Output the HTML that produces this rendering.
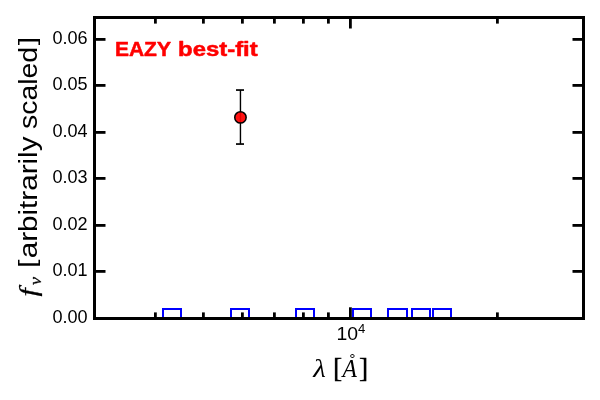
<!DOCTYPE html>
<html lang="en">
<head>
<meta charset="utf-8">
<title>EAZY best-fit</title>
<style>
  html, body { margin: 0; padding: 0; background: #ffffff; }
  body { width: 600px; height: 400px; overflow: hidden; font-family: "Liberation Sans", sans-serif; }
  svg { display: block; will-change: transform; }
  text { font-family: "Liberation Sans", sans-serif; fill: #000; }
  .ser { font-family: "Liberation Serif", serif; }
  .it { font-family: "Liberation Serif", serif; font-style: italic; }
</style>
</head>
<body>
<svg width="600" height="400" viewBox="0 0 600 400">
  <rect x="0" y="0" width="600" height="400" fill="#ffffff"/>
  <defs>
    <clipPath id="ax"><rect x="94.5" y="17.5" width="489" height="301"/></clipPath>
  </defs>

  <!-- filter squares (blue, clipped by axes) -->
  <g clip-path="url(#ax)" fill="none" stroke="#0000ff" stroke-width="2">
    <rect x="163" y="309" width="18" height="19"/>
    <rect x="231" y="309" width="18" height="19"/>
    <rect x="296" y="309" width="18" height="19"/>
    <rect x="353" y="309" width="18" height="19"/>
    <rect x="388" y="309" width="19" height="19"/>
    <rect x="412" y="309" width="18" height="19"/>
    <rect x="433" y="309" width="18" height="19"/>
  </g>

  <!-- data point with error bar -->
  <g>
    <rect x="239.75" y="90" width="1.4" height="54" fill="#000"/>
    <rect x="236" y="89.2" width="8" height="1.7" fill="#000"/>
    <rect x="236" y="143.2" width="8" height="1.7" fill="#000"/>
    <circle cx="240.45" cy="117.4" r="5.7" fill="#ff0000" fill-opacity="0.92" stroke="#000" stroke-width="1.5"/>
  </g>

  <!-- ticks -->
  <g fill="#000">
    <!-- left -->
    <rect x="94.5" y="38" width="11" height="2.8"/>
    <rect x="94.5" y="84" width="11" height="2.8"/>
    <rect x="94.5" y="131" width="11" height="2.8"/>
    <rect x="94.5" y="177" width="11" height="2.8"/>
    <rect x="94.5" y="224" width="11" height="2.8"/>
    <rect x="94.5" y="270" width="11" height="2.8"/>
    <!-- right -->
    <rect x="572.5" y="38" width="11" height="2.8"/>
    <rect x="572.5" y="84" width="11" height="2.8"/>
    <rect x="572.5" y="131" width="11" height="2.8"/>
    <rect x="572.5" y="177" width="11" height="2.8"/>
    <rect x="572.5" y="224" width="11" height="2.8"/>
    <rect x="572.5" y="270" width="11" height="2.8"/>
    <!-- bottom minor -->
    <rect x="154" y="312.4" width="2.8" height="6"/>
    <rect x="202" y="312.4" width="2.8" height="6"/>
    <rect x="241" y="312.4" width="2.8" height="6"/>
    <rect x="273" y="312.4" width="2.8" height="6"/>
    <rect x="302" y="312.4" width="2.8" height="6"/>
    <rect x="327" y="312.4" width="2.8" height="6"/>
    <rect x="496" y="312.4" width="2.8" height="6"/>
    <!-- bottom major -->
    <rect x="349" y="307.3" width="2.8" height="11"/>
    <!-- top minor -->
    <rect x="154" y="17.5" width="2.8" height="6.1"/>
    <rect x="202" y="17.5" width="2.8" height="6.1"/>
    <rect x="241" y="17.5" width="2.8" height="6.1"/>
    <rect x="273" y="17.5" width="2.8" height="6.1"/>
    <rect x="302" y="17.5" width="2.8" height="6.1"/>
    <rect x="327" y="17.5" width="2.8" height="6.1"/>
    <rect x="496" y="17.5" width="2.8" height="6.1"/>
    <!-- top major -->
    <rect x="349" y="17.5" width="2.8" height="11"/>
  </g>

  <!-- spines -->
  <rect x="94.5" y="17.5" width="489" height="301" fill="none" stroke="#000" stroke-width="3"/>

  <!-- y tick labels -->
  <g font-size="18" text-anchor="end">
    <text x="87.6" y="44" textLength="35.2" lengthAdjust="spacingAndGlyphs">0.06</text>
    <text x="87.6" y="90" textLength="35.2" lengthAdjust="spacingAndGlyphs">0.05</text>
    <text x="87.6" y="137" textLength="35.2" lengthAdjust="spacingAndGlyphs">0.04</text>
    <text x="87.6" y="183" textLength="35.2" lengthAdjust="spacingAndGlyphs">0.03</text>
    <text x="87.6" y="230" textLength="35.2" lengthAdjust="spacingAndGlyphs">0.02</text>
    <text x="87.6" y="276" textLength="35.2" lengthAdjust="spacingAndGlyphs">0.01</text>
    <text x="87.6" y="323" textLength="35.2" lengthAdjust="spacingAndGlyphs">0.00</text>
  </g>

  <!-- x tick label 10^4 -->
  <text x="336.4" y="339.8" font-size="18" textLength="21.6" lengthAdjust="spacingAndGlyphs">10</text>
  <text x="358" y="333" font-size="12" textLength="7.3" lengthAdjust="spacingAndGlyphs">4</text>

  <!-- title -->
  <g font-weight="bold" font-size="20.2" stroke="#ff0000" stroke-width="0.5" stroke-linejoin="round">
    <text x="114.9" y="56.2" textLength="56" lengthAdjust="spacingAndGlyphs" style="fill:#ff0000">EAZY</text>
    <text x="178.1" y="56.2" textLength="79.6" lengthAdjust="spacingAndGlyphs" style="fill:#ff0000">best-fit</text>
  </g>

  <!-- x label -->
  <g>
    <text class="it" x="313.2" y="377" font-size="26" textLength="12.6" lengthAdjust="spacingAndGlyphs">λ</text>
    <text class="ser" x="332.9" y="376.5" font-size="27.5" stroke="#000" stroke-width="0.35">[</text>
    <text class="it" x="342.6" y="377" font-size="25.6" textLength="14.4" lengthAdjust="spacingAndGlyphs">A</text>
    <text class="ser" x="348.8" y="368.6" font-size="22">˚</text>
    <text class="ser" x="358.9" y="376.5" font-size="27.5" stroke="#000" stroke-width="0.35">]</text>
  </g>

  <!-- y label -->
  <g transform="translate(36.8,297) rotate(-90)">
    <text class="it" x="0" y="0" font-size="24.5" stroke="#000" stroke-width="0.25" transform="translate(0.4,0) scale(1.22,1)">f</text>
    <text class="it" x="11.9" y="4" font-size="17.5" stroke="#000" stroke-width="0.3" textLength="8" lengthAdjust="spacingAndGlyphs">ν</text>
    <text x="29" y="-1.9" font-size="24.3" textLength="8.4" lengthAdjust="spacingAndGlyphs">[</text>
    <text x="38.7" y="0" font-size="26" textLength="121.8" lengthAdjust="spacingAndGlyphs">arbitrarily</text>
    <text x="168" y="0" font-size="26" textLength="82.1" lengthAdjust="spacingAndGlyphs">scaled</text>
    <text x="251.8" y="-1.9" font-size="24.3" textLength="8.4" lengthAdjust="spacingAndGlyphs">]</text>
  </g>
</svg>
</body>
</html>
